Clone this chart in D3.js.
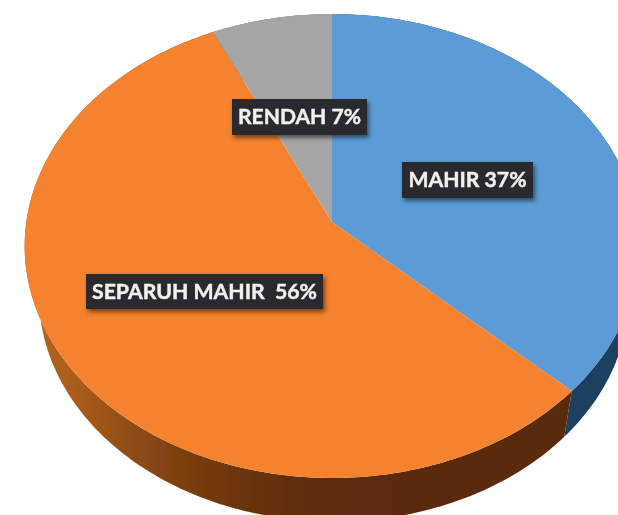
<!DOCTYPE html>
<html>
<head>
<meta charset="utf-8">
<title>Pie</title>
<script src="https://cdn.jsdelivr.net/npm/d3@7"></script>
<style>
html,body{margin:0;padding:0;background:#fff;overflow:hidden;}
svg{display:block;}
.lbl{font-family:Lato,"Open Sans",sans-serif;font-weight:700;font-size:21px;fill:#f0f0ec;stroke:#f0f0ec;stroke-width:0.45px;white-space:pre;}
</style>
</head>
<body>
<div id="chart"></div>
<script>
var categories=["MAHIR","SEPARUH MAHIR ","RENDAH"];
var values=[37,56,7];

var WIDTH=618, HEIGHT=515;
var TOP_COLORS=["#5b9bd5","#f4822f","#a5a5a5"];

// perspective of the disc, worked out from the outline of the top face
var CX=332, CY=222, RX=305.7, RY=229.5, TILT=-0.1034;
// bottom rim of the wall, fitted from points on the outer edge
var DEPTH=50, BOTTOM_DX=2, BOTTOM_SX=0.96, BOTTOM_SY=0.975;

// label boxes are layout only
var LABEL_BOXES=[
	{x:402,y:162,w:131,h:36,tw:118},
	{x:86,y:274,w:237,h:35,tw:225},
	{x:232,y:99,w:135,h:36,tw:123}
];

/** angle on the disc -> screen point, z=0 top face, z=1 bottom rim */
function project(a,z){
	var u=Math.sin(a), v=-Math.cos(a), w=1+TILT*v;
	if (z) return [CX+BOTTOM_DX+BOTTOM_SX*RX*u/w, CY+DEPTH+BOTTOM_SY*RY*v/w];
	return [CX+RX*u/w, CY+RY*v/w];
}

function arcPoints(a0,a1,z){
	var n=Math.max(2,Math.ceil(Math.abs(a1-a0)*60));
	return d3.range(n+1).map(function(i){return project(a0+(a1-a0)*i/n,z);});
}

var svg=d3.select("#chart").append("svg").attr("width",WIDTH).attr("height",HEIGHT);
var defs=svg.append("defs");
var line=d3.line();

var wallGrad=defs.append("linearGradient").attr("id","wallOrange")
	.attr("gradientUnits","userSpaceOnUse")
	.attr("x1",30).attr("x2",570).attr("y1",0).attr("y2",0);
wallGrad.selectAll("stop")
	.data([[0,"#b9651f"],[0.1,"#a65a1a"],[0.2,"#8c4a14"],[0.33,"#73390e"],[0.5,"#5e2d08"],[0.7,"#5a2b07"],[1,"#5a2b07"]])
	.enter().append("stop")
	.attr("offset",function(d){return d[0];})
	.attr("stop-color",function(d){return d[1];});

var shadow=defs.append("filter").attr("id","boxShadow")
	.attr("x","-10%").attr("y","-30%").attr("width","125%").attr("height","170%");
shadow.append("feDropShadow").attr("dx",2).attr("dy",3).attr("stdDeviation",2)
	.attr("flood-color","#000").attr("flood-opacity",0.5);

var textShadow=defs.append("filter").attr("id","textShadow")
	.attr("x","-5%").attr("y","-20%").attr("width","110%").attr("height","140%");
textShadow.append("feGaussianBlur").attr("in","SourceGraphic").attr("stdDeviation",0.35);

var soft=defs.append("filter").attr("id","soft");
soft.append("feGaussianBlur").attr("stdDeviation",0.5);

var pie=d3.pie().sort(null);
var slices=pie(values);

// ---------- side wall ----------
var wallColors=["#1b3f5f","url(#wallOrange)","#6b6b6b"];
var gWall=svg.append("g").attr("id","wall").attr("filter","url(#soft)");
slices.forEach(function(d,i){
	var top=arcPoints(d.startAngle,d.endAngle,0);
	var bottom=arcPoints(d.startAngle,d.endAngle,1).reverse();
	gWall.append("path")
		.attr("d",line(top.concat(bottom))+"Z")
		.attr("fill",wallColors[i]);
});

// ---------- top face ----------
var gTop=svg.append("g").attr("id","top").attr("filter","url(#soft)");
gTop.selectAll("path")
	.data(slices)
	.enter().append("path")
	.attr("d",function(d){
		return line([[CX,CY]].concat(arcPoints(d.startAngle,d.endAngle,0)))+"Z";
	})
	.attr("fill",function(d,i){return TOP_COLORS[i];});

// ---------- labels ----------
var gLabels=svg.append("g").attr("id","labels");
slices.forEach(function(d,i){
	var b=LABEL_BOXES[i];
	gLabels.append("rect")
		.attr("x",b.x).attr("y",b.y).attr("width",b.w).attr("height",b.h)
		.attr("fill","#2c2c2e")
		.attr("filter","url(#boxShadow)");
	gLabels.append("text")
		.attr("class","lbl")
		.attr("x",b.x+b.w/2)
		.attr("y",b.y+b.h/2+7)
		.attr("text-anchor","middle")
		.attr("textLength",b.tw)
		.attr("lengthAdjust","spacingAndGlyphs")
		.attr("filter","url(#textShadow)")
		.text(categories[i]+" "+d.value+"%");
});
</script>
</body>
</html>
